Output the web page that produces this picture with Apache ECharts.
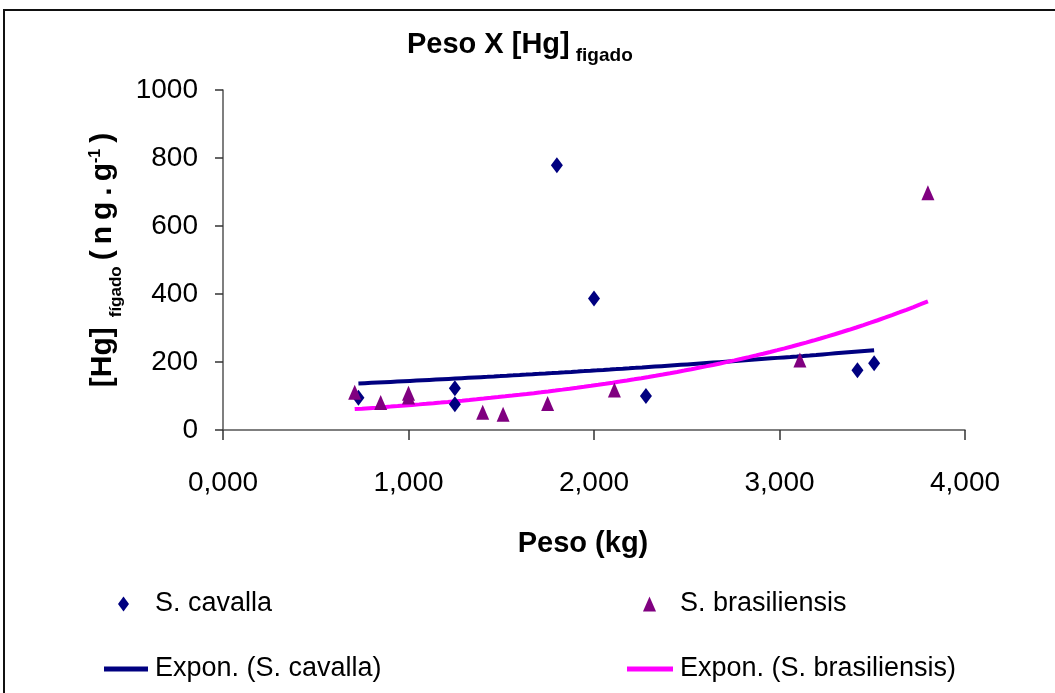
<!DOCTYPE html>
<html>
<head>
<meta charset="utf-8">
<script src="https://cdn.jsdelivr.net/npm/echarts@6/dist/echarts.min.js"></script>
<style>
html,body{margin:0;padding:0;background:#fff;}
#chart{width:1055px;height:693px;}
</style>
</head>
<body>
<div id="chart"></div>
<script>
// ---- data ----
const pesoCavalla = [0.73, 1.25, 1.25, 1.80, 2.00, 2.28, 3.42, 3.51];
const hgCavalla   = [95, 123, 76, 779, 387, 100, 176, 196];
const pesoBras    = [0.71, 0.85, 1.00, 1.00, 1.40, 1.51, 1.75, 2.11, 3.11, 3.80];
const hgBras      = [111, 81, 108, 97, 52, 46, 78, 118, 206, 698];
const seriesNames = ['S. cavalla', 'S. brasiliensis', 'Expon. (S. cavalla)', 'Expon. (S. brasiliensis)'];

const FR = "'Liberation Sans',Arial,Helvetica,sans-serif";

function pairs(xs, ys) { return xs.map((x, i) => [x, ys[i]]); }

// Excel-style exponential trendline: least squares on ln(y)
function expTrend(xs, ys, n) {
  const ly = ys.map(v => Math.log(v));
  const mx = xs.reduce((a, b) => a + b, 0) / xs.length;
  const my = ly.reduce((a, b) => a + b, 0) / ly.length;
  let sxy = 0, sxx = 0;
  xs.forEach((x, i) => { sxy += (x - mx) * (ly[i] - my); sxx += (x - mx) * (x - mx); });
  const b = sxy / sxx, a = Math.exp(my - b * mx);
  const x0 = Math.min(...xs), x1 = Math.max(...xs);
  const out = [];
  for (let i = 0; i <= n; i++) { const x = x0 + (x1 - x0) * i / n; out.push([x, a * Math.exp(b * x)]); }
  return out;
}

const chart = echarts.init(document.getElementById('chart'), null, {renderer: 'canvas'});
const legendBase = (name, left, top, icon, w, h, padL) => ({
  data: [{name: name, icon: icon}], left: left, top: top, padding: 0, orient: 'horizontal',
  itemWidth: w, itemHeight: h, selectedMode: false,
  textStyle: {fontFamily: FR, fontSize: 27, color: '#000', lineHeight: 36, padding: [0, 0, 0, padL]}
});

const T = '\u2009';

chart.setOption({
  animation: false,
  backgroundColor: '#fff',
  title: {
    text: '{m|Peso X [Hg]}{s|figado}',
    left: 407, top: 30, padding: 0,
    textStyle: {
      rich: {
        m: {fontFamily: FR, fontWeight: 'bold', fontSize: 29, lineHeight: 34, verticalAlign: 'top', color: '#000'},
        s: {fontFamily: FR, fontWeight: 'bold', fontSize: 19, lineHeight: 20, verticalAlign: 'top', padding: [16, 0, 0, 6], color: '#000'}
      }
    }
  },
  legend: [
    legendBase(seriesNames[0], 118, 586, 'diamond', 11, 15, 21),
    legendBase(seriesNames[1], 643, 586, 'triangle', 13, 15, 19),
    legendBase(seriesNames[2], 104, 651, 'rect', 44, 5, 2),
    legendBase(seriesNames[3], 627, 651, 'rect', 46, 5, 2)
  ],
  grid: {left: 223, right: 90, top: 90, bottom: 263, containLabel: false},
  xAxis: {
    type: 'value', min: 0, max: 4, interval: 1,
    name: 'Peso (kg)', nameLocation: 'middle', nameGap: 94,
    nameTextStyle: {fontFamily: FR, fontWeight: 'bold', fontSize: 29, lineHeight: 40, color: '#000', padding: [0, 22, 0, 0]},
    axisLine: {show: true, onZero: false, lineStyle: {color: '#555', width: 1.5}},
    axisTick: {show: true, inside: false, length: 10, lineStyle: {color: '#333', width: 1.5}},
    axisLabel: {fontFamily: FR, fontSize: 28, lineHeight: 32, color: '#000', margin: 37,
      formatter: v => v.toFixed(3).replace('.', ',')},
    splitLine: {show: false}
  },
  yAxis: {
    type: 'value', min: 0, max: 1000, interval: 200,
    name: '{m|[Hg]' + T + '}{s|fígado}{m|' + T + '(' + T + 'n' + T + 'g' + T + '.' + T + 'g}{p|-1}{m|' + T + ')}',
    nameLocation: 'middle', nameGap: 96, nameRotate: 90,
    nameTextStyle: {
      rich: {
        m: {fontFamily: FR, fontWeight: 'bold', fontSize: 30, lineHeight: 36, verticalAlign: 'top', color: '#000'},
        s: {fontFamily: FR, fontWeight: 'bold', fontSize: 17, lineHeight: 18, verticalAlign: 'top', padding: [20, 0, 0, 4], color: '#000'},
        p: {fontFamily: FR, fontWeight: 'bold', fontSize: 16, lineHeight: 16, verticalAlign: 'top', color: '#000'}
      }
    },
    axisLine: {show: true, lineStyle: {color: '#555', width: 1.5}},
    axisTick: {show: true, inside: false, length: 8, lineStyle: {color: '#333', width: 1.5}},
    axisLabel: {fontFamily: FR, fontSize: 28, lineHeight: 32, color: '#000', margin: 25,
      formatter: v => String(v)},
    splitLine: {show: false}
  },
  graphic: [{
    type: 'rect', shape: {x: 4, y: 10, width: 1080, height: 720}, silent: true, z: 100,
    style: {fill: 'none', stroke: '#111', lineWidth: 2}
  }],
  series: [
    {name: seriesNames[0], type: 'scatter', data: pairs(pesoCavalla, hgCavalla), symbol: 'diamond', symbolSize: [12, 16],
     itemStyle: {color: '#000080', opacity: 1}, z: 3},
    {name: seriesNames[1], type: 'scatter', data: pairs(pesoBras, hgBras), symbol: 'triangle', symbolSize: [13, 15],
     itemStyle: {color: '#800080', opacity: 1}, z: 3},
    {name: seriesNames[2], type: 'line', data: expTrend(pesoCavalla, hgCavalla, 80), showSymbol: false, smooth: false,
     lineStyle: {color: '#000080', width: 4}, itemStyle: {color: '#000080'}, z: 2},
    {name: seriesNames[3], type: 'line', data: expTrend(pesoBras, hgBras, 80), showSymbol: false, smooth: false,
     lineStyle: {color: '#ff00ff', width: 4}, itemStyle: {color: '#ff00ff'}, z: 2}
  ]
});
</script>
</body>
</html>
